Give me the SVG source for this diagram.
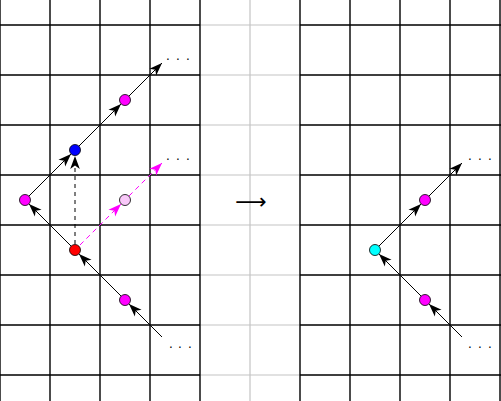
<svg xmlns="http://www.w3.org/2000/svg" width="501" height="401" viewBox="0 0 501 401">
<style>
.g{stroke:#000;stroke-width:1.4;fill:none}
.gg{stroke:#c4c4c4;stroke-width:1.2;fill:none}
.e{stroke:#000;stroke-width:1;fill:none}
.ed{stroke:#000;stroke-width:1;fill:none;stroke-dasharray:4 4}
.em{stroke:#ff00ff;stroke-width:1;fill:none;stroke-dasharray:5 4}
.n{stroke:#000;stroke-width:0.8}
.dots{font-family:"DejaVu Sans",sans-serif;font-size:12px;text-anchor:middle;fill:#000}
</style>
<defs>
<marker id="ah" markerUnits="userSpaceOnUse" markerWidth="14" markerHeight="12" viewBox="0 0 14 12" refX="13" refY="6" orient="auto">
<path d="M0,1.2 L13,6 L0,10.8 L3.5,6 z" fill="#000"/>
</marker>
<marker id="ahm" markerUnits="userSpaceOnUse" markerWidth="14" markerHeight="12" viewBox="0 0 14 12" refX="13" refY="6" orient="auto">
<path d="M0,1.2 L13,6 L0,10.8 L3.5,6 z" fill="#ff00ff"/>
</marker>
</defs>
<rect width="501" height="401" fill="#fff"/>
<g id="grid">
<path class="gg" d="M250,0V401 M200,25H300 M200,75H300 M200,125H300 M200,175H300 M200,225H300 M200,275H300 M200,325H300 M200,375H300"/>
<path class="g" d="M0,0V401 M50,0V401 M100,0V401 M150,0V401 M200,0V401 M0,25H200 M0,75H200 M0,125H200 M0,175H200 M0,225H200 M0,275H200 M0,325H200 M0,375H200"/>
<path class="g" d="M300,0V401 M350,0V401 M400,0V401 M450,0V401 M500,0V401 M300,25H501 M300,75H501 M300,125H501 M300,175H501 M300,225H501 M300,275H501 M300,325H501 M300,375H501"/>
</g>
<g id="connectors">
<line class="e" x1="162" y1="337" x2="129" y2="304" marker-end="url(#ah)"/>
<line class="e" x1="125" y1="300" x2="79" y2="254" marker-end="url(#ah)"/>
<line class="e" x1="75" y1="250" x2="29" y2="204" marker-end="url(#ah)"/>
<line class="e" x1="25" y1="200" x2="71" y2="154" marker-end="url(#ah)"/>
<line class="e" x1="75" y1="150" x2="121" y2="104" marker-end="url(#ah)"/>
<line class="e" x1="125" y1="100" x2="162" y2="63" marker-end="url(#ah)"/>
<line class="ed" x1="75" y1="244" x2="75" y2="156" marker-end="url(#ah)"/>
<line class="em" x1="80" y1="245" x2="121" y2="204" marker-end="url(#ahm)"/>
<line class="em" x1="129" y1="196" x2="162" y2="163" marker-end="url(#ahm)"/>
<line class="e" x1="462" y1="337" x2="429" y2="304" marker-end="url(#ah)"/>
<line class="e" x1="425" y1="300" x2="379" y2="254" marker-end="url(#ah)"/>
<line class="e" x1="375" y1="250" x2="421" y2="204" marker-end="url(#ah)"/>
<line class="e" x1="425" y1="200" x2="462" y2="163" marker-end="url(#ah)"/>
</g>
<g id="n1"><circle class="n" cx="125" cy="300" r="5.5" fill="#ff00ff"/></g>
<g id="n2"><circle class="n" cx="75" cy="250" r="5.5" fill="#ff0000"/></g>
<g id="n3"><circle class="n" cx="25" cy="200" r="5.5" fill="#ff00ff"/></g>
<g id="n4"><circle class="n" cx="75" cy="150" r="5.5" fill="#0000ff"/></g>
<g id="n5"><circle class="n" cx="125" cy="100" r="5.5" fill="#ff00ff"/></g>
<g id="n6"><circle class="n" cx="125" cy="200" r="5.5" fill="#f8c8f8"/></g>
<g id="n7"><circle class="n" cx="425" cy="300" r="5.5" fill="#ff00ff"/></g>
<g id="n8"><circle class="n" cx="375" cy="250" r="5.5" fill="#00ffff"/></g>
<g id="n9"><circle class="n" cx="425" cy="200" r="5.5" fill="#ff00ff"/></g>
<g id="labels">
<text class="dots" x="168 178 188" y="64">···</text>
<text class="dots" x="168 178 188" y="164">···</text>
<text class="dots" x="171 180 190" y="352">···</text>
<text class="dots" x="470 480 490" y="164">···</text>
<text class="dots" x="470 480 490" y="352">···</text>
<text x="251" y="209" font-family="DejaVu Sans,sans-serif" font-size="22" text-anchor="middle" fill="#000">⟶</text>
</g>
</svg>
